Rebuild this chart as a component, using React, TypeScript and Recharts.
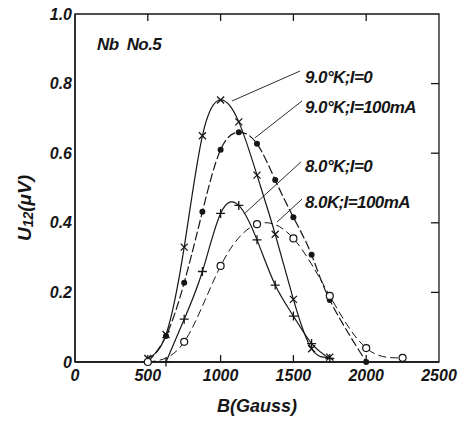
import React from "react";
import {
  LineChart,
  Line,
  XAxis,
  YAxis,
  ReferenceLine,
  ReferenceDot,
  ReferenceArea,
  Label,
} from "recharts";

// Nb No.5 — U12 vs B, four runs
const B_9K_I0 = [500, 625, 750, 875, 1000, 1125, 1250, 1375, 1500, 1625, 1750];
const U_9K_I0 = [0.01, 0.079, 0.33, 0.65, 0.753, 0.69, 0.537, 0.367, 0.18, 0.038, 0.014];

const B_9K_I100 = [500, 625, 750, 875, 1000, 1125, 1250, 1375, 1500, 1625, 1750, 2000];
const U_9K_I100 = [0, 0.075, 0.228, 0.432, 0.61, 0.66, 0.627, 0.523, 0.416, 0.308, 0.178, 0];

const B_8K_I0 = [625, 750, 875, 1000, 1125, 1250, 1375, 1500, 1625, 1750];
const U_8K_I0 = [0, 0.123, 0.26, 0.427, 0.45, 0.351, 0.221, 0.132, 0.053, 0.01];

const B_8K_I100 = [500, 750, 1000, 1250, 1500, 1750, 2000, 2250];
const U_8K_I100 = [0, 0.058, 0.276, 0.396, 0.355, 0.19, 0.04, 0.012];

const X_TICKS = [0, 500, 1000, 1500, 2000, 2500];
const X_INNER_TICKS = [500, 1000, 1500, 2000];
const Y_TICKS = [0, 0.2, 0.4, 0.6, 0.8, 1.0];
const Y_INNER_TICKS = [0.2, 0.4, 0.6, 0.8];

const LABELS = ["9.0°K;I=0", "9.0°K;I=100mA", "8.0°K;I=0", "8.0K;I=100mA"];
const LABEL_POS = [
  { x: 1580, y: 0.802 },
  { x: 1580, y: 0.716 },
  { x: 1580, y: 0.546 },
  { x: 1580, y: 0.443 },
];
const LEADERS = [
  [{ x: 1078, y: 0.75 }, { x: 1545, y: 0.836 }],
  [{ x: 1236, y: 0.644 }, { x: 1559, y: 0.75 }],
  [{ x: 1168, y: 0.428 }, { x: 1552, y: 0.575 }],
  [{ x: 1387, y: 0.402 }, { x: 1559, y: 0.468 }],
];

const zip = (bs: number[], us: number[]) => bs.map((b, i) => ({ b, u: us[i] }));

const INK = "#161616";
const FONT = "'Liberation Sans', Arial, sans-serif";
const txt = {
  fontFamily: FONT,
  fontStyle: "italic" as const,
  fontWeight: 700,
  fill: INK,
};

const CrossDot = (p: any) => {
  const { cx, cy } = p;
  if (cx == null || cy == null) return <g key={p.key} />;
  const s = 3.5;
  return (
    <path
      key={p.key}
      d={`M${cx - s},${cy - s}L${cx + s},${cy + s}M${cx - s},${cy + s}L${cx + s},${cy - s}`}
      stroke={INK}
      strokeWidth={1.3}
      fill="none"
    />
  );
};

const PlusDot = (p: any) => {
  const { cx, cy } = p;
  if (cx == null || cy == null) return <g key={p.key} />;
  const s = 4.5;
  return (
    <path
      key={p.key}
      d={`M${cx - s},${cy}L${cx + s},${cy}M${cx},${cy - s}L${cx},${cy + s}`}
      stroke={INK}
      strokeWidth={1.3}
      fill="none"
    />
  );
};

const FilledDot = (p: any) => {
  const { cx, cy, index } = p;
  if (cx == null || cy == null || index === 0) return <g key={p.key} />;
  return <circle key={p.key} cx={cx} cy={cy} r={3} fill={INK} stroke="none" />;
};

const OpenDot = (p: any) => {
  const { cx, cy } = p;
  if (cx == null || cy == null) return <g key={p.key} />;
  return <circle key={p.key} cx={cx} cy={cy} r={3.5} fill="#fff" stroke={INK} strokeWidth={1.2} />;
};

const TextShape = (value: string, size = 17) => (p: any) => (
  <text x={p.cx} y={p.cy} {...txt} fontSize={size} letterSpacing={-0.6}>
    {value}
  </text>
);

const YTitle = () => {
  const cx = 24;
  const cy = 208;
  return (
    <text
      x={cx}
      y={cy}
      transform={`rotate(-90 ${cx} ${cy})`}
      textAnchor="middle"
      dominantBaseline="central"
      {...txt}
      fontSize={19}
    >
      U<tspan fontSize={14} dy={4}>12</tspan>
      <tspan dy={-4}>(μV)</tspan>
    </text>
  );
};

const tickStroke = { stroke: INK, strokeWidth: 1.3 };

export default function App() {
  return (
    <div style={{ position: "absolute", left: 0, top: 0, background: "#fff" }}>
      <LineChart
        width={461}
        height={422}
        margin={{ top: 14, right: 22, bottom: 30, left: 0 }}
      >
        <XAxis
          type="number"
          dataKey="b"
          domain={[0, 2500]}
          ticks={X_TICKS}
          allowDataOverflow
          height={30}
          stroke={INK}
          tickLine={false}
          tickSize={6}
          tickMargin={2}
          tick={{ ...txt, fontSize: 16 }}
          axisLine={tickStroke}
        >
          <Label
            value="B(Gauss)"
            position="bottom"
            offset={7}
            style={{ ...txt, fontSize: 18 }}
          />
        </XAxis>
        <YAxis
          type="number"
          domain={[0, 1]}
          ticks={Y_TICKS}
          width={75}
          tickLine={false}
          tickSize={1}
          tickMargin={2}
          tick={{ ...txt, fontSize: 16 }}
          tickFormatter={(v: number) => (v === 0 ? "0" : v.toFixed(1))}
          axisLine={tickStroke}
          label={<YTitle />}
        />

        {/* frame */}
        <ReferenceArea
          x1={0}
          x2={2500}
          y1={0}
          y2={1}
          fill="none"
          stroke={INK}
          strokeWidth={1.3}
          ifOverflow="visible"
        />
        {/* inward ticks: bottom, top, right */}
        {X_INNER_TICKS.map((t) => (
          <ReferenceLine key={"bt" + t} segment={[{ x: t, y: 0 }, { x: t, y: 0.02 }]} {...tickStroke} />
        ))}
        {X_INNER_TICKS.map((t) => (
          <ReferenceLine key={"tt" + t} segment={[{ x: t, y: 1 }, { x: t, y: 0.98 }]} {...tickStroke} />
        ))}
        {Y_INNER_TICKS.map((t) => (
          <ReferenceLine key={"rt" + t} segment={[{ x: 2500, y: t }, { x: 2445, y: t }]} {...tickStroke} />
        ))}

        <Line
          data={zip(B_9K_I0, U_9K_I0)}
          dataKey="u"
          type="natural"
          stroke={INK}
          strokeWidth={1.2}
          dot={CrossDot}
          activeDot={false}
          isAnimationActive={false}
        />
        <Line
          data={zip(B_9K_I100, U_9K_I100)}
          dataKey="u"
          type="natural"
          stroke={INK}
          strokeWidth={1.2}
          strokeDasharray="9 3"
          dot={FilledDot}
          activeDot={false}
          isAnimationActive={false}
        />
        <Line
          data={zip(B_8K_I0, U_8K_I0)}
          dataKey="u"
          type="natural"
          stroke={INK}
          strokeWidth={1.2}
          dot={PlusDot}
          activeDot={false}
          isAnimationActive={false}
        />
        <Line
          data={zip(B_8K_I100, U_8K_I100)}
          dataKey="u"
          type="natural"
          stroke={INK}
          strokeWidth={1}
          strokeDasharray="8 4"
          dot={OpenDot}
          activeDot={false}
          isAnimationActive={false}
        />

        {LEADERS.map((seg, i) => (
          <ReferenceLine
            key={"ld" + i}
            segment={seg}
            stroke={INK}
            strokeWidth={0.9}
            ifOverflow="visible"
          />
        ))}
        {LABELS.map((s, i) => (
          <ReferenceDot
            key={"lb" + i}
            x={LABEL_POS[i].x}
            y={LABEL_POS[i].y}
            ifOverflow="visible"
            shape={TextShape(s)}
          />
        ))}
        <ReferenceDot x={151} y={0.897} ifOverflow="visible" shape={TextShape("Nb\u00a0\u00a0No.5", 17)} />
      </LineChart>
    </div>
  );
}
